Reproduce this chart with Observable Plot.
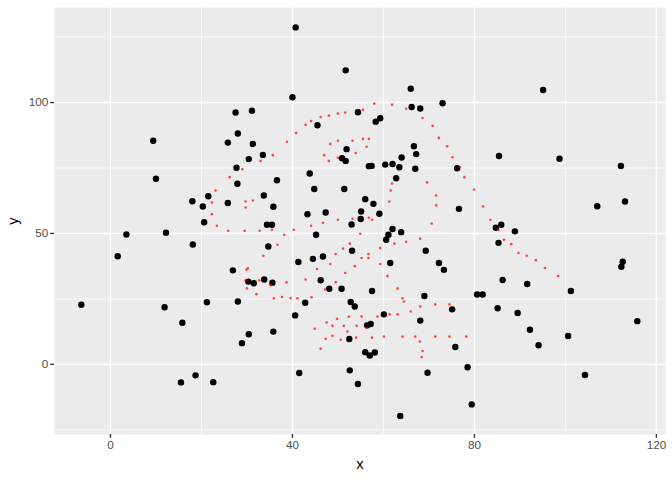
<!DOCTYPE html>
<html>
<head>
<meta charset="utf-8">
<script src="https://cdn.jsdelivr.net/npm/d3@7"></script>
<script src="https://cdn.jsdelivr.net/npm/@observablehq/plot@0.6"></script>
<style>
  body { margin: 0; background: white; }
  #chart svg { display: block; }
</style>
</head>
<body>
<div id="chart"></div>
<script>
// puntos negros (x, y)
const blackPoints = [
  [27.5,96.2],[31.1,96.9],[28.0,88.2],[9.4,85.4],[25.8,84.7],[31.3,84.2],[30.4,78.4],[27.7,75.1],
  [10.0,70.9],[27.9,69.0],[21.5,64.2],[18.0,62.3],[20.3,60.3],[25.8,61.6],[20.6,54.3],[3.5,49.6],
  [12.2,50.3],
  [40.7,128.7],[51.7,112.3],[40.0,102.0],[66.0,105.3],[66.2,98.3],[68.1,97.7],[73.0,99.7],[54.4,96.3],
  [45.5,91.3],[58.3,92.7],[59.3,94.0],[66.7,83.3],[67.2,80.3],[64.0,79.0],[51.9,82.2],[50.9,78.7],
  [51.7,77.7],[33.5,80.0],[56.8,75.7],[57.4,75.8],[60.4,76.3],[62.0,76.5],[63.5,75.3],[67.0,74.7],
  [76.2,74.9],[62.8,71.1],[43.8,72.9],[36.6,70.3],[33.7,64.5],[44.8,67.0],[51.4,67.0],[35.8,60.2],
  [56.0,63.1],[57.8,61.3],[76.6,59.4],[43.3,57.3],[47.3,58.0],[55.1,58.4],[59.1,57.5],[55.0,55.5],
  [53.0,53.4],[34.4,53.3],[35.5,53.3],[62.0,51.7],[63.9,50.5],[45.2,49.5],[61.1,49.5],
  [95.1,104.8],[85.4,79.6],[98.7,78.5],[112.2,75.8],[107.0,60.4],[113.1,62.2],[84.7,52.2],[85.9,53.3],
  [88.9,50.8],
  [18.1,45.8],[1.6,41.3],[26.9,35.9],[30.3,31.6],[31.5,31.0],[-6.4,22.8],[11.9,21.8],[21.2,23.7],
  [28.0,24.0],[15.8,15.9],[30.4,11.5],[28.9,8.1],[18.7,-4.2],[15.5,-6.9],[22.6,-6.8],
  [60.6,47.6],[34.7,45.0],[53.1,43.4],[69.3,43.4],[41.3,39.1],[44.5,40.3],[46.7,41.2],[61.5,38.7],
  [72.2,38.7],[73.3,36.1],[33.8,32.4],[35.6,31.2],[46.2,32.1],[48.1,28.9],[50.8,28.9],[57.5,28.0],
  [69.0,26.1],[42.8,23.5],[52.8,23.8],[53.7,22.1],[75.1,21.0],[40.6,18.7],[60.1,19.1],[68.1,16.7],
  [35.8,12.5],[56.4,14.9],[57.2,15.4],[52.5,9.7],[75.8,6.6],[56.0,4.6],[57.0,3.4],[58.1,4.5],
  [41.5,-3.3],[52.6,-2.3],[69.7,-3.2],[54.4,-7.5],[63.7,-19.7],
  [85.3,46.4],[112.6,39.2],[112.3,37.3],[86.2,32.2],[91.6,30.7],[101.2,28.0],[80.6,26.7],[81.8,26.7],
  [85.1,21.4],[89.5,19.6],[115.8,16.5],[92.2,13.2],[100.6,10.8],[94.1,7.3],[78.5,-1.1],[104.3,-4.1],
  [79.4,-15.3]
]

// puntos rojos (x, y)
const redPoints = [
  [29.0,74.5],[26.2,71.5],[23.1,66.4],[22.3,61.8],[29.7,62.2],[31.3,62.6],[29.7,59.9],[22.3,57.3],
  [23.4,52.9],[25.9,51.0],[29.5,51.0],[32.8,51.0],
  [58.0,99.6],[61.9,99.2],[65.0,97.6],[55.5,97.2],[51.6,96.2],[50.0,95.8],[48.0,95.0],[46.2,94.5],
  [44.1,92.9],[42.9,91.5],[40.8,88.4],[38.8,85.0],[35.7,79.9],[33.0,77.7],[68.6,94.1],[70.8,91.1],
  [72.2,86.5],[74.0,83.3],[75.2,79.1],[50.0,85.4],[53.2,85.4],[55.5,86.1],[56.8,86.1],[48.3,84.2],
  [56.3,83.1],[53.9,80.7],[47.0,79.9],[50.0,78.9],[48.0,77.7],[61.9,69.1],[61.6,66.4],[61.3,62.2],
  [69.6,69.5],[71.6,64.5],[71.6,60.7],[70.6,53.8],[56.8,56.0],[57.5,55.2],[53.2,55.6],[50.0,55.2],
  [46.7,54.1],[44.1,52.9],[40.3,51.4],[35.5,51.4],[38.2,49.5],[54.9,49.9],
  [76.8,75.3],[77.8,71.5],[79.9,66.8],[81.9,60.3],[83.5,55.2],[85.3,51.4],
  [29.9,36.1],[30.2,36.7],[29.7,32.1],[32.7,32.1],[30.0,29.0],[32.1,26.8],
  [36.7,45.7],[33.6,41.5],[52.6,46.1],[51.1,44.2],[49.5,42.1],[48.3,38.3],[45.4,36.4],[42.9,32.4],
  [38.7,31.3],[35.2,30.2],[47.2,28.6],[49.5,31.4],[51.6,34.9],[53.7,37.5],[55.2,40.6],[56.7,42.1],
  [56.7,40.6],[59.3,44.4],[59.3,38.3],[62.4,46.1],[65.0,46.8],[68.1,48.0],[60.9,33.7],[63.1,29.0],
  [64.2,25.2],[64.5,24.0],[35.9,25.2],[37.7,25.7],[39.6,25.3],[41.1,25.2],[44.2,25.6],[66.0,20.2],
  [68.1,22.1],[71.4,22.9],[74.5,22.9],[63.1,19.1],[61.4,19.1],[58.7,18.3],[55.2,18.3],[52.4,18.2],
  [49.8,17.4],[47.5,16.0],[48.8,14.7],[51.3,14.7],[52.1,12.5],[54.1,14.7],[56.3,14.0],[44.9,13.6],
  [47.3,9.8],[48.8,10.9],[50.6,9.4],[54.0,10.2],[57.5,10.2],[60.1,10.6],[64.2,10.6],[67.0,10.6],
  [68.0,8.7],[71.4,10.6],[74.5,10.6],[68.6,5.1],[68.4,2.8],[46.2,6.0],
  [86.5,47.6],[88.1,45.9],[89.7,42.5],[91.5,41.5],[93.5,39.8],[95.5,36.8],[98.4,33.7],[78.2,10.6]
]

const xTicks = [0, 40, 80, 120]
const xMinor = [20, 60, 100]
const yTicks = [0, 50, 100]
const yMinor = [-25, 25, 75, 125]

const grid = {stroke: 'white', strokeOpacity: 1}

let chart = Plot.plot({
  width: 672,
  height: 480,
  marginLeft: 54,
  marginRight: 7,
  marginTop: 7,
  marginBottom: 46,
  style: {fontFamily: 'Liberation Sans, Arial, sans-serif', background: 'white'},
  x: {domain: [-12.3, 122], axis: null},
  y: {domain: [-26.8, 136.3], axis: null},
  marks: [
    Plot.frame({fill: '#EBEBEB', stroke: 'none'}),
    Plot.gridX(xMinor, {...grid, strokeWidth: 0.7}),
    Plot.gridY(yMinor, {...grid, strokeWidth: 0.7}),
    Plot.gridX(xTicks, {...grid, strokeWidth: 1.4}),
    Plot.gridY(yTicks, {...grid, strokeWidth: 1.4}),
    Plot.dot(blackPoints, {x: d => d[0], y: d => d[1], r: 3.2, fill: 'black'}),
    Plot.dot(redPoints, {x: d => d[0], y: d => d[1], r: 1.3, fill: 'red', fillOpacity: 0.7}),
    Plot.axisX(xTicks, {tickSize: 3.7, tickPadding: 2.5, stroke: '#333333', strokeWidth: 1.4,
      fill: '#4D4D4D', fontSize: 11.7, label: null}),
    Plot.axisY(yTicks, {tickSize: 3.7, tickPadding: 2.5, stroke: '#333333', strokeWidth: 1.4,
      fill: '#4D4D4D', fontSize: 11.7, label: null}),
    Plot.text(['x'], {text: d => d, frameAnchor: 'bottom', dy: 30, lineAnchor: 'middle',
      textAnchor: 'middle', fontSize: 14.7, fill: 'black'}),
    Plot.text(['y'], {text: d => d, frameAnchor: 'left', dx: -41, rotate: -90, lineAnchor: 'middle',
      textAnchor: 'middle', fontSize: 14.7, fill: 'black'}),
  ],
})

d3.select('#chart').append(() => chart)
</script>
</body>
</html>
